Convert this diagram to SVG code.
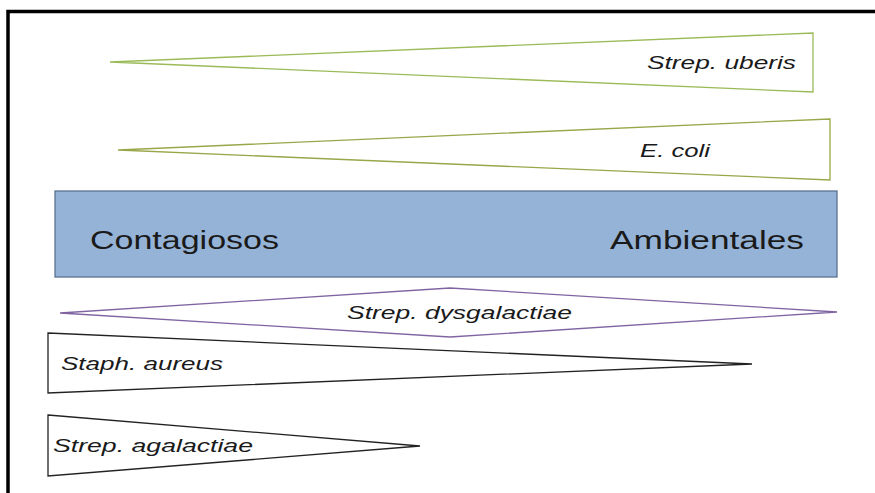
<svg xmlns="http://www.w3.org/2000/svg" width="875" height="493" viewBox="0 0 875 493">
<style>
.lbl{font-family:"Liberation Sans","Open Sans",sans-serif;fill:#1a1a1a}
.it{font-style:italic;font-size:18px}
.big{font-size:26px}
.tri{fill:#fff;stroke-width:1.3}
</style>
<rect x="0" y="0" width="875" height="493" fill="#fff"/>
<g id="frame">
<path d="M8 493 V11.5 H875" fill="none" stroke="#000" stroke-width="3.5"/>
</g>
<g id="uberis">
<polygon class="tri" points="110,62 813,33 813,92" stroke="#9BBB59"/>
<text class="lbl it" x="647" y="69" textLength="149" lengthAdjust="spacingAndGlyphs">Strep. uberis</text>
</g>
<g id="ecoli">
<polygon class="tri" points="118,150 830,119 830,180" stroke="#9AA64A"/>
<text class="lbl it" x="640" y="157" textLength="70" lengthAdjust="spacingAndGlyphs">E. coli</text>
</g>
<g id="band">
<rect x="55" y="191" width="782" height="86" fill="#95B3D7" stroke="#5B7393" stroke-width="1.3"/>
<text class="lbl big" x="90" y="249" textLength="189" lengthAdjust="spacingAndGlyphs">Contagiosos</text>
<text class="lbl big" x="610" y="249" textLength="194" lengthAdjust="spacingAndGlyphs">Ambientales</text>
</g>
<g id="dysgalactiae">
<polygon class="tri" points="60,313 450,288 837,312 450,337" stroke="#8064A2"/>
<text class="lbl it" x="347" y="319" textLength="225" lengthAdjust="spacingAndGlyphs">Strep. dysgalactiae</text>
</g>
<g id="aureus">
<polygon class="tri" points="48,333 752,364 48,393" stroke="#222"/>
<text class="lbl it" x="61" y="370" textLength="162" lengthAdjust="spacingAndGlyphs">Staph. aureus</text>
</g>
<g id="agalactiae">
<polygon class="tri" points="48,415 420,446 48,476" stroke="#222"/>
<text class="lbl it" x="53" y="452" textLength="200" lengthAdjust="spacingAndGlyphs">Strep. agalactiae</text>
</g>
<g id="connectors"></g>
</svg>
